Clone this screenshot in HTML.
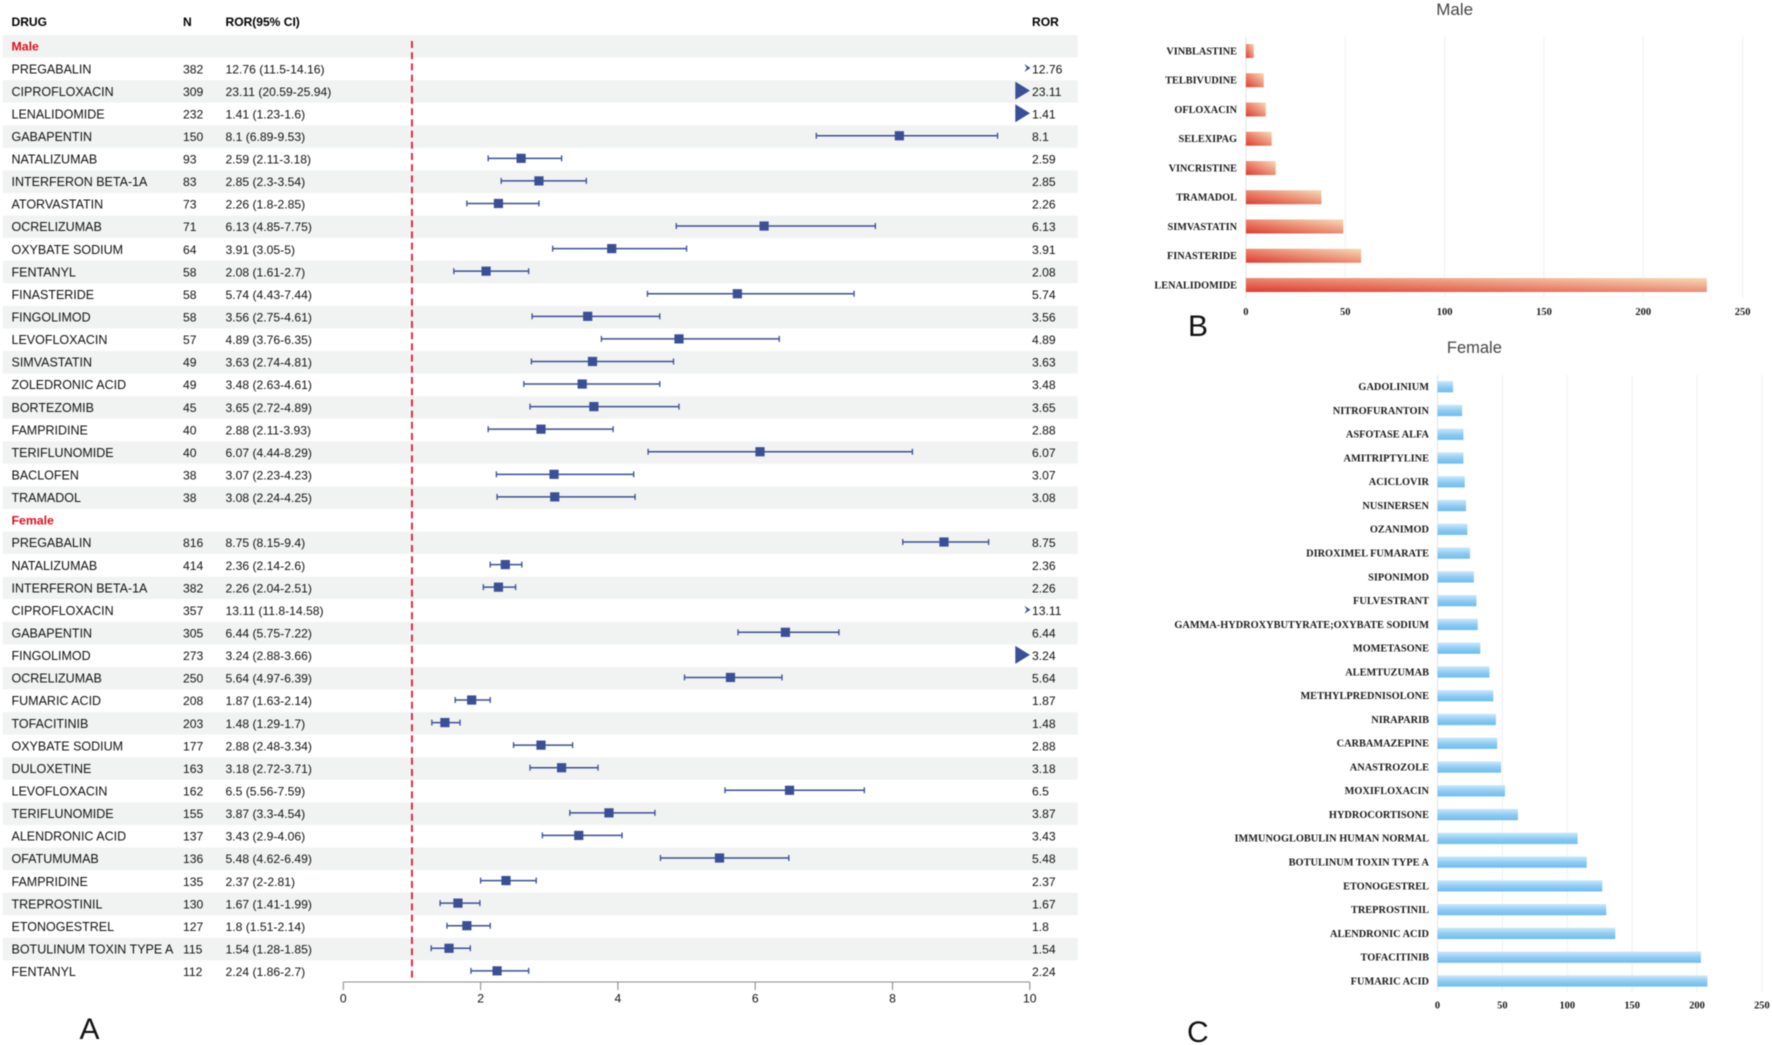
<!DOCTYPE html>
<html lang="en">
<head>
<meta charset="utf-8">
<title>Drug adverse event signals by sex</title>
<style>
html,body{margin:0;padding:0;background:#fff;width:1772px;height:1045px;overflow:hidden}
svg{display:block;filter:blur(0.4px)}
.f{font-family:"Liberation Sans",sans-serif;font-size:12.15px;fill:#111}
.d{font-family:"Liberation Sans",sans-serif;font-size:12.5px;fill:#111}
.fb{font-family:"Liberation Sans",sans-serif;font-size:12.05px;font-weight:bold;fill:#000}
.s{font-family:"Liberation Serif",serif;font-weight:bold;fill:#1a1a1a}
</style>
</head>
<body>
<svg id="root" xmlns="http://www.w3.org/2000/svg" width="1772" height="1045" viewBox="0 0 1772 1045">
  <defs>
    <linearGradient id="redGrad" x1="0" y1="1" x2="1" y2="0">
      <stop offset="0" stop-color="#df3a2e"/>
      <stop offset="1" stop-color="#f7dcb8"/>
    </linearGradient>
    <linearGradient id="blueGrad" x1="0" y1="0" x2="0" y2="1">
      <stop offset="0" stop-color="#cbe8fb"/>
      <stop offset="0.55" stop-color="#8ccbf3"/>
      <stop offset="1" stop-color="#6fbcee"/>
    </linearGradient>
  </defs>
  <text class="fb" x="11.5" y="25.8">DRUG</text>
  <text class="fb" x="183" y="25.8">N</text>
  <text class="fb" x="225.5" y="25.8">ROR(95% CI)</text>
  <text class="fb" x="1032" y="25.8">ROR</text>
  <g id="forest"></g>
  <g id="barsMale"></g>
  <g id="barsFemale"></g>
  <text x="1454.7" y="15" text-anchor="middle" style="font-family:'Liberation Sans',sans-serif;font-size:17px;fill:#444">Male</text>
  <text x="1474.4" y="353" text-anchor="middle" style="font-family:'Liberation Sans',sans-serif;font-size:16.5px;fill:#444">Female</text>
  <text x="79.5" y="1039" style="font-family:'Liberation Sans',sans-serif;font-size:30px;fill:#111">A</text>
  <text x="1188" y="336" style="font-family:'Liberation Sans',sans-serif;font-size:30px;fill:#111">B</text>
  <text x="1187" y="1042" style="font-family:'Liberation Sans',sans-serif;font-size:30px;fill:#111">C</text>
</svg>
<script>
var maleDrugs = ["PREGABALIN","CIPROFLOXACIN","LENALIDOMIDE","GABAPENTIN","NATALIZUMAB","INTERFERON BETA-1A","ATORVASTATIN","OCRELIZUMAB","OXYBATE SODIUM","FENTANYL","FINASTERIDE","FINGOLIMOD","LEVOFLOXACIN","SIMVASTATIN","ZOLEDRONIC ACID","BORTEZOMIB","FAMPRIDINE","TERIFLUNOMIDE","BACLOFEN","TRAMADOL"];
var maleN = [382,309,232,150,93,83,73,71,64,58,58,58,57,49,49,45,40,40,38,38];
var maleRor = [12.76,23.11,1.41,8.1,2.59,2.85,2.26,6.13,3.91,2.08,5.74,3.56,4.89,3.63,3.48,3.65,2.88,6.07,3.07,3.08];
var maleLo = [11.5,20.59,1.23,6.89,2.11,2.3,1.8,4.85,3.05,1.61,4.43,2.75,3.76,2.74,2.63,2.72,2.11,4.44,2.23,2.24];
var maleHi = [14.16,25.94,1.6,9.53,3.18,3.54,2.85,7.75,5,2.7,7.44,4.61,6.35,4.81,4.61,4.89,3.93,8.29,4.23,4.25];
var maleArrow = ["small","big","big","","","","","","","","","","","","","","","","",""];

var femaleDrugs = ["PREGABALIN","NATALIZUMAB","INTERFERON BETA-1A","CIPROFLOXACIN","GABAPENTIN","FINGOLIMOD","OCRELIZUMAB","FUMARIC ACID","TOFACITINIB","OXYBATE SODIUM","DULOXETINE","LEVOFLOXACIN","TERIFLUNOMIDE","ALENDRONIC ACID","OFATUMUMAB","FAMPRIDINE","TREPROSTINIL","ETONOGESTREL","BOTULINUM TOXIN TYPE A","FENTANYL"];
var femaleN = [816,414,382,357,305,273,250,208,203,177,163,162,155,137,136,135,130,127,115,112];
var femaleRor = [8.75,2.36,2.26,13.11,6.44,3.24,5.64,1.87,1.48,2.88,3.18,6.5,3.87,3.43,5.48,2.37,1.67,1.8,1.54,2.24];
var femaleLo = [8.15,2.14,2.04,11.8,5.75,2.88,4.97,1.63,1.29,2.48,2.72,5.56,3.3,2.9,4.62,2,1.41,1.51,1.28,1.86];
var femaleHi = [9.4,2.6,2.51,14.58,7.22,3.66,6.39,2.14,1.7,3.34,3.71,7.59,4.54,4.06,6.49,2.81,1.99,2.14,1.85,2.7];
var femaleArrow = ["","","","small","","big","","","","","","","","","","","","","",""];
var forestTicks = [0,2,4,6,8,10];
var referenceValue = 1;

var barMaleCategories = ["VINBLASTINE","TELBIVUDINE","OFLOXACIN","SELEXIPAG","VINCRISTINE","TRAMADOL","SIMVASTATIN","FINASTERIDE","LENALIDOMIDE"];
var barMaleValues = [4,9,10,13,15,38,49,58,232];
var barFemaleCategories = ["GADOLINIUM","NITROFURANTOIN","ASFOTASE ALFA","AMITRIPTYLINE","ACICLOVIR","NUSINERSEN","OZANIMOD","DIROXIMEL FUMARATE","SIPONIMOD","FULVESTRANT","GAMMA-HYDROXYBUTYRATE;OXYBATE SODIUM","MOMETASONE","ALEMTUZUMAB","METHYLPREDNISOLONE","NIRAPARIB","CARBAMAZEPINE","ANASTROZOLE","MOXIFLOXACIN","HYDROCORTISONE","IMMUNOGLOBULIN HUMAN NORMAL","BOTULINUM TOXIN TYPE A","ETONOGESTREL","TREPROSTINIL","ALENDRONIC ACID","TOFACITINIB","FUMARIC ACID"];
var barFemaleValues = [12,19,20,20,21,22,23,25,28,30,31,33,40,43,45,46,49,52,62,108,115,127,130,137,203,208];
var barTicks = [0,50,100,150,200,250];

var NS = "http://www.w3.org/2000/svg";
function mk(parent, tag, props, txt) {
  var el = document.createElementNS(NS, tag);
  for (var k in props) el.setAttribute(k, props[k]);
  if (txt !== undefined) el.textContent = txt;
  parent.appendChild(el);
  return el;
}
function xF(v) { return 343.3 + v * 68.65; }
var rowTop = 35, rowH = 22.57;
function rowMid(i) { return rowTop + rowH * i + rowH / 2; }
var blue = "#3a4f96";

var forest = document.getElementById("forest");
var totalRows = 2 + maleDrugs.length + femaleDrugs.length;
for (var b = 0; b < totalRows; b += 2) {
  var band = mk(forest, "rect", {x:2.7, y:rowTop + rowH * b, width:1075, height:rowH, fill:"#f1f3f2"});
  
  
}

var axisY = 982;
var refLine = mk(forest, "line", {x1:xF(referenceValue), x2:xF(referenceValue), y1:41, y2:axisY, stroke:"#e0182d", "stroke-width":1.8, "stroke-dasharray":"7 4.2"});



function groupHeader(label, i) {
  var t = mk(forest, "text", {x:11.5, y:rowMid(i) + 4.2, style:"font-family:'Liberation Sans',sans-serif;font-size:12.3px;font-weight:bold;fill:#e00d1c"}, label);
  
  
}
function drawRow(i, drug, n, ror, lo, hi, arrow) {
  var ty = rowMid(i) + 4.4;
  var t1 = mk(forest, "text", {"class":"d", x:11.5, y:ty}, drug);
  
  
  var t2 = mk(forest, "text", {"class":"f", x:183, y:ty}, String(n));
  
  
  var t3 = mk(forest, "text", {"class":"f", x:225.5, y:ty}, ror + " (" + lo + "-" + hi + ")");
  
  
  var t4 = mk(forest, "text", {"class":"f", x:1032, y:ty}, String(ror));
  
  
  var my = rowMid(i) - 0.8;
  if (arrow === "big") {
    var big = mk(forest, "polygon", {points:"1015.3," + (my - 9) + " 1030,"+ my + " 1015.3," + (my + 9), fill:blue});
    
    
    return;
  }
  if (arrow === "small") {
    var small = mk(forest, "polygon", {points:"1024.3," + (my - 4) + " 1030.5,"+ my + " 1024.3," + (my + 4) + " 1026.8," + my, fill:blue});
    
    
    return;
  }
  var ci = mk(forest, "line", {x1:xF(lo), x2:xF(hi), y1:my, y2:my, stroke:blue, "stroke-width":1.5});
  
  
  var c1 = mk(forest, "line", {x1:xF(lo), x2:xF(lo), y1:my - 3, y2:my + 3, stroke:blue, "stroke-width":1.3});
  
  
  var c2 = mk(forest, "line", {x1:xF(hi), x2:xF(hi), y1:my - 3, y2:my + 3, stroke:blue, "stroke-width":1.3});
  
  
  var sq = mk(forest, "rect", {x:xF(ror) - 4.6, y:my - 4.6, width:9.2, height:9.2, fill:blue});
  
  
}
groupHeader("Male", 0);
for (var m = 0; m < maleDrugs.length; m++) {
  drawRow(1 + m, maleDrugs[m], maleN[m], maleRor[m], maleLo[m], maleHi[m], maleArrow[m]);
}
groupHeader("Female", 1 + maleDrugs.length);
for (var f = 0; f < femaleDrugs.length; f++) {
  drawRow(2 + maleDrugs.length + f, femaleDrugs[f], femaleN[f], femaleRor[f], femaleLo[f], femaleHi[f], femaleArrow[f]);
}
var axisLine = mk(forest, "line", {x1:xF(forestTicks[0]), x2:xF(forestTicks[forestTicks.length - 1]), y1:axisY, y2:axisY, stroke:"#8c8c8c", "stroke-width":1.1});


forestTicks.forEach(function (tv) {
  var tk = mk(forest, "line", {x1:xF(tv), x2:xF(tv), y1:axisY, y2:axisY + 8, stroke:"#8c8c8c", "stroke-width":1.1});
  
  
  var tl = mk(forest, "text", {"class":"f", x:xF(tv), y:axisY + 20.5, "text-anchor":"middle"}, String(tv));
  
  
});

function drawBars(host, cats, vals, opt) {
  function xB(v) { return opt.x0 + v * opt.unit; }
  barTicks.forEach(function (tv) {
    var g = mk(host, "line", {x1:xB(tv), x2:xB(tv), y1:opt.gridTop, y2:opt.gridBottom, stroke:tv === 0 ? "#dfe3e6" : "#eef0f1", "stroke-width":1});
    
    
    var l = mk(host, "text", {"class":"s", x:xB(tv), y:opt.tickY, "text-anchor":"middle", "font-size":opt.tickSize}, String(tv));
    
    
  });
  cats.forEach(function (c, i) {
    var cy = opt.firstY + opt.step * i;
    var r = mk(host, "rect", {x:xB(0), y:cy - opt.barH / 2, width:xB(vals[i]) - xB(0), height:opt.barH, fill:"url(#" + opt.grad + ")"});
    
    
    var lab = mk(host, "text", {"class":"s", x:opt.labelX, y:cy + 3.4, "text-anchor":"end", "font-size":opt.labelSize}, c);
    
    
  });
}
drawBars(document.getElementById("barsMale"), barMaleCategories, barMaleValues, {
  x0:1245.9, unit:1.987, gridTop:36.7, gridBottom:298, tickY:315, tickSize:10.5,
  firstY:51, step:29.25, barH:14, grad:"redGrad", labelX:1237, labelSize:10.25
});
drawBars(document.getElementById("barsFemale"), barFemaleCategories, barFemaleValues, {
  x0:1437.5, unit:1.2976, gridTop:375, gridBottom:992, tickY:1008.3, tickSize:10.4,
  firstY:386.7, step:23.77, barH:11.3, grad:"blueGrad", labelX:1429, labelSize:10.33
});
</script>
</body>
</html>
